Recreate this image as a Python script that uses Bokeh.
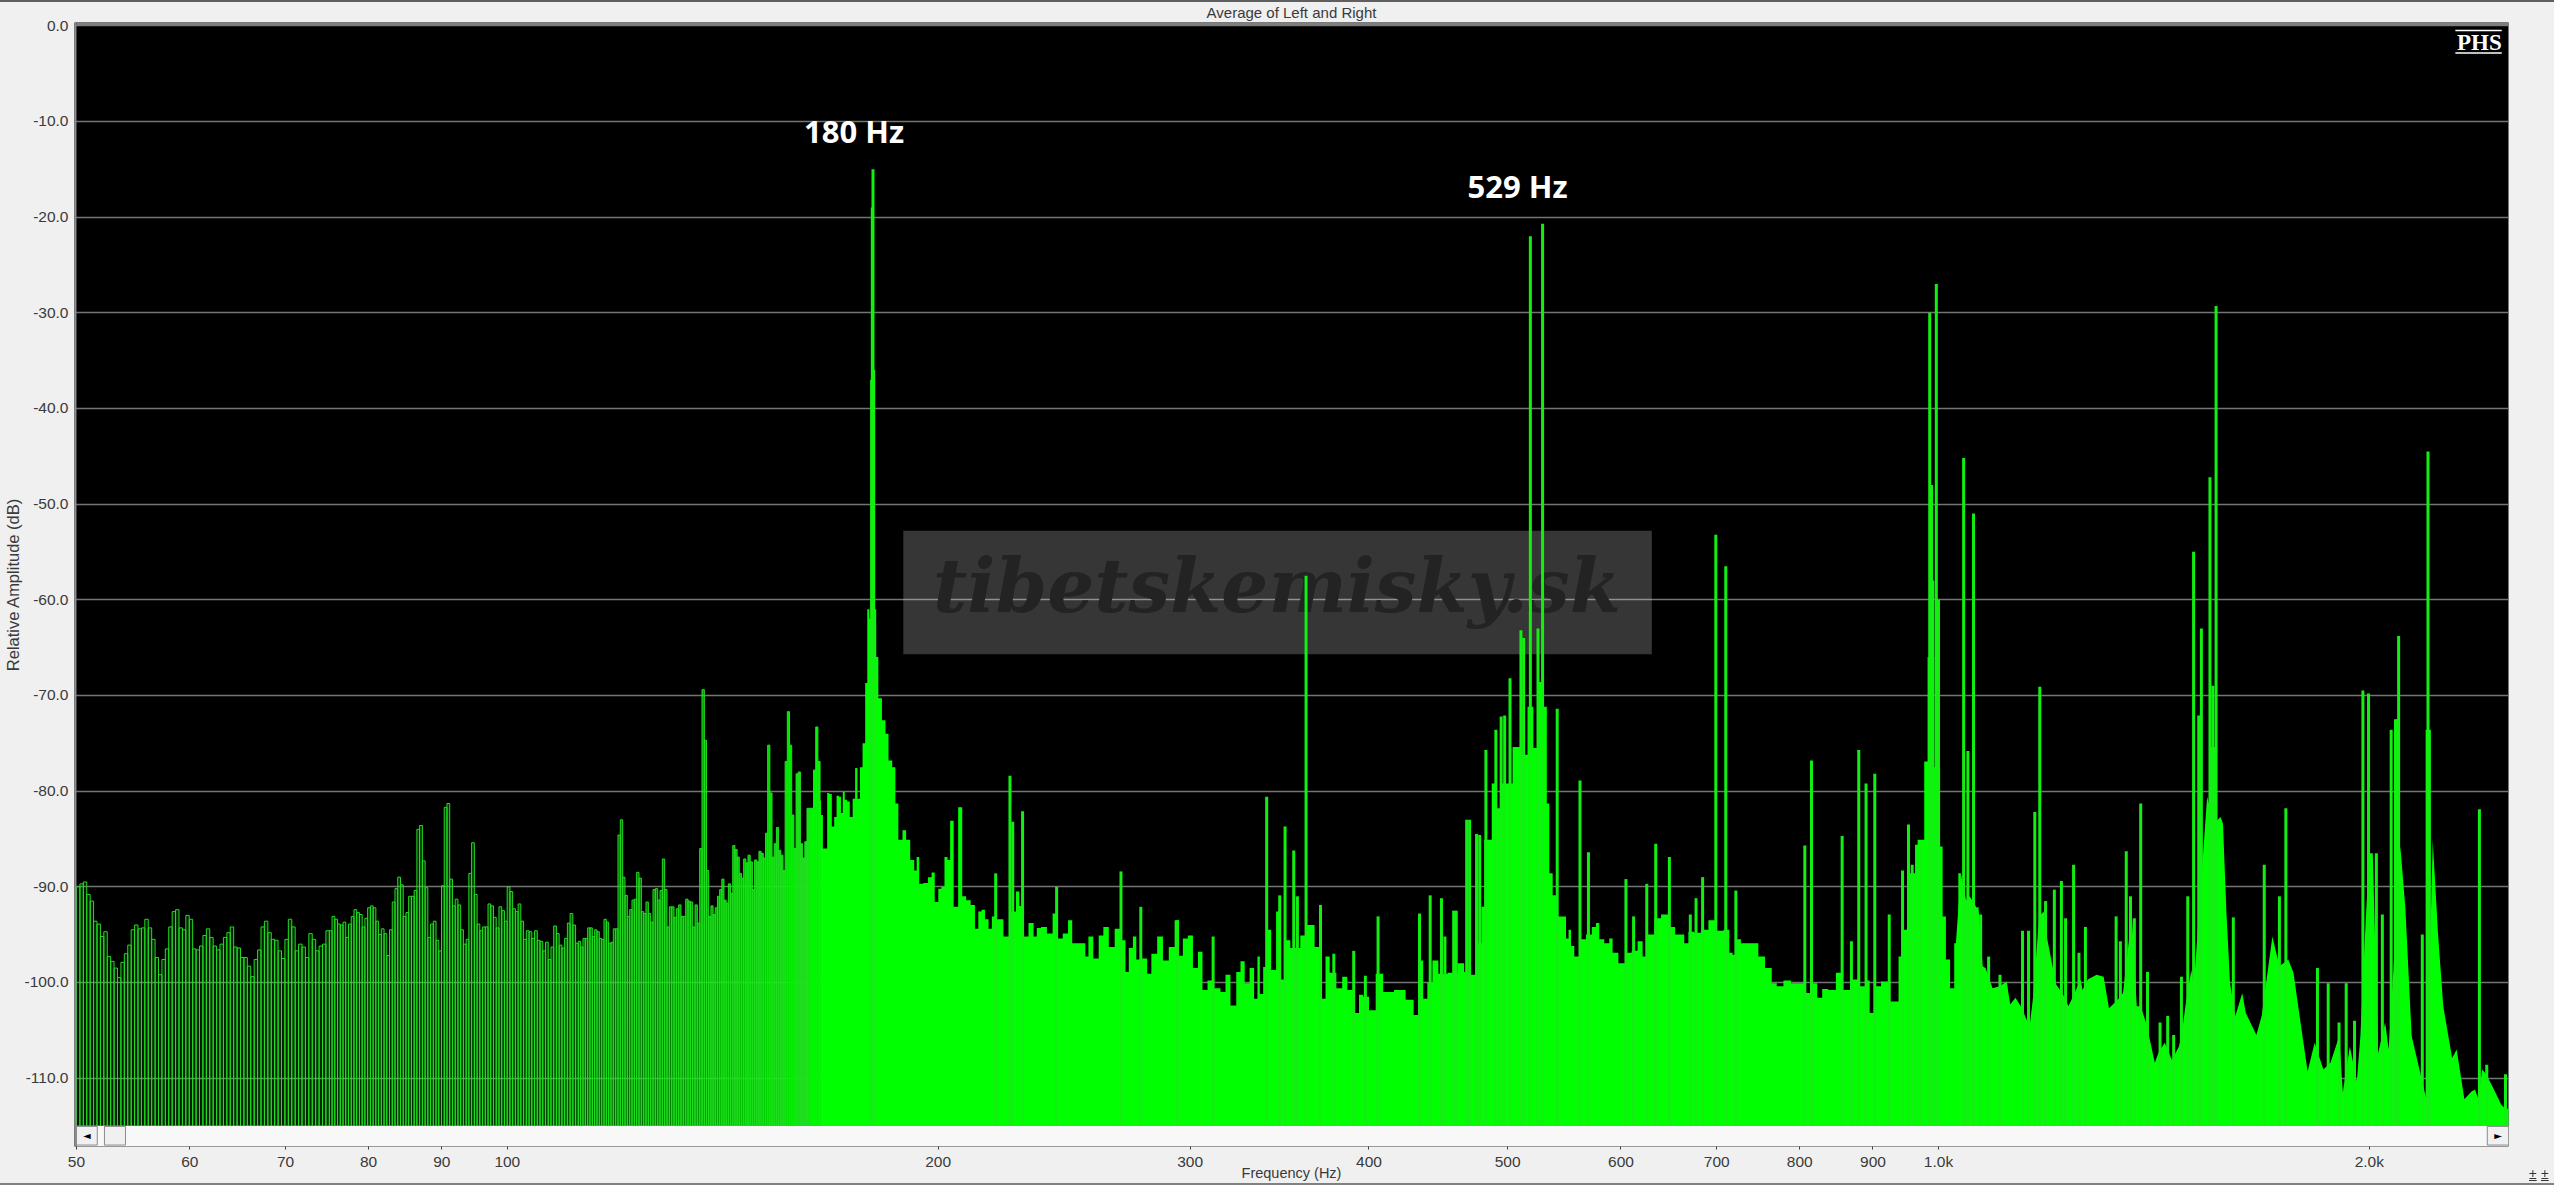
import numpy as np
from bokeh.plotting import figure
from bokeh.models import Range1d, FixedTicker, BoxAnnotation, Label
from bokeh.embed import file_html
from bokeh.resources import INLINE

TITLE = "Average of Left and Right"
XLABEL = "Frequency (Hz)"
YLABEL = "Relative Amplitude (dB)"
X_TICKS = [50, 60, 70, 80, 90, 100, 200, 300, 400, 500, 600, 700, 800, 900, 1000, 2000]
X_TICK_LABELS = ["50", "60", "70", "80", "90", "100", "200", "300", "400", "500", "600", "700", "800", "900", "1.0k", "2.0k"]
Y_TICKS = [0, -10, -20, -30, -40, -50, -60, -70, -80, -90, -100, -110]
Y_TICK_LABELS = ["0.0", "-10.0", "-20.0", "-30.0", "-40.0", "-50.0", "-60.0", "-70.0", "-80.0", "-90.0", "-100.0", "-110.0"]

# Individually resolved FFT bars, by frequency block (Hz limits, then dB of each bar)
block_limits = [(50.0, 75.1), (75.1, 112.1), (112.1, 137.3), (137.3, 165.4)]
bars_a = [-90,-89.7,-89.5,-90.8,-91.5,-93.6,-93.9,-95.2,-94.7,-97.3,-97.8,-98.5,-99.5,-97.9,-97,-96.1,-94.5,-94,-94.4,-94.3,-93.4,-94.3,-95.5,-97.4,-99.2,-97.6,-96.5,-94.2,-92.6,-92.4,-94.3,-94.5,-93,-93.4,-96.5,-96.6,-96.2,-95.1,-94.4,-95.3,-96.2,-96.6,-96,-95.3,-94.8,-94.2,-96.3,-96.4,-97.4,-97.4,-98.3,-99.4,-97.6,-96.6,-94.2,-93.6,-94.8,-95.5,-95.6,-96.7,-97.5,-95.5,-93.4,-94.2,-96.7,-96,-96.3,-97.4,-94.9,-95.5,-96.7,-96.2,-96,-94.6]
bars_b = [-94.6,-93.1,-93.4,-93.9,-94,-93.7,-95.3,-93.9,-93.1,-92.4,-92.7,-92.9,-94.2,-93.3,-92.2,-92,-92.2,-93.6,-95,-94.4,-94.9,-97.2,-94.5,-91.6,-90.2,-89,-89.8,-93.1,-92.7,-91,-91,-90.4,-84,-83.6,-87.3,-90.1,-95.3,-93.9,-93.6,-95.6,-96.7,-89.9,-81.7,-81.3,-89.2,-92,-91.3,-91.9,-94.5,-96,-95.5,-88.6,-85.4,-90.8,-93.9,-94.6,-94.2,-94.2,-91.8,-92,-93.2,-94.3,-92.1,-92.5,-93.6,-90,-90.5,-92.3,-92.6,-91.8,-93.6,-95.5,-94.6,-94.7,-95.4,-94.6,-95.6,-95.7,-96.7,-95.8,-97.6,-96.3,-94.1,-94.9,-96.1,-96.4,-95.4,-93.8,-92.8,-94,-95.9]
bars_c = [-95.7,-96.3,-95.4,-95.4,-94.3,-94.3,-95.2,-94.5,-94.7,-95.4,-95.5,-93.4,-93.7,-95.9,-95.8,-94.4,-94.4,-84.6,-83,-89,-90.9,-93.1,-92.4,-91.4,-91.3,-88.5,-89.1,-92.6,-92.8,-91.6,-92.8,-93.7,-90.3,-90.2,-91.4,-90.4,-87.1,-90.3,-94.2,-92.1,-92.1,-93.2,-92.3,-91.9,-93.1,-93.1,-91.3,-91.5,-91.6,-94.2,-91.9,-93.8,-86,-69.4]
bars_d = [-74.7,-88.3,-93.1,-92,-92.9,-92.2,-91,-90.3,-89.2,-91.4,-91.7,-89.7,-90.7,-85.7,-86.1,-86.9,-88.6,-89.1,-87.1,-87.5,-86.7,-87.4,-90.3,-87.2,-87.4,-86.3,-86.5,-87,-84.4,-75.2,-80.2,-86.9,-85.5,-83.8,-86.2,-86.7,-88.3,-76.9,-71.7,-75.2,-82.5,-86,-78.2,-78,-85.5,-87,-85.3,-81.8,-81.8,-81.8,-77.8,-73.3,-76.9]

# Solid part of the spectrum: envelope of the noise floor
floor_hz = [165.4,165.9,166.4,167.0,167.6,168.2,168.9,169.5,170.2,170.8,171.3,171.8,172.4,173.1,173.9,174.7,175.3,176,176.7,177.5,178.2,178.7,179.4,180,181.2,182.1,183.3,184.2,185.1,186.4,187,188.2,189.5,190.4,192,192.9,193.5,194.5,196.1,197.4,198.4,199.4,200.7,201.4,202.7,203.4,204.4,205.7,207.4,
208.4,210,211.5,212.9,213.8,215.1,216.2,217.6,218.5,221.1,223.2,225.8,227.6,228.2,230,232.6,233.8,235,237,239.5,241.4,243.4,245.4,247.6,248.7,250.7,253,253.9,255.5,257.9,260,261.8,264.6,266.8,269.6,271.1,272.5,274.7,275.5,279.2,280.7,283,286,288.3,291.4,293.8,295.3,297.7,300.1,302.6,305,307,310,313.3,316.7,318.4,321.8,324.4,326.2,328.8,331.4,333.6,335,336.2,338.6,340.4,343.1,345.9,348.2,351.5,353.4,357.2,359.1,365,368,372,374,377,382.1,384.2,388.4,392.6,394.7,397.9,402.2,406.5,412,420.9,427.7,431.9,434.7,438.2,440.6,445.4,
449.1,458.8,463.7,468.7,473.8,478.4,480.2,482.8,486.7,488,493.3,497.3,501.3,506.7,513.5,519,523.2,527.5,531.8,533.2,536.1,539,543.3,547.7,550.7,552.2,555.1,558.1,564.1,570.2,574.8,577.9,581,587.2,590.4,593.5,601.5,608,612.9,619.6,622.9,629.6,636.5,643.4,652,657.2,662.5,666.1,671.5,678.7,686,695.3,702.8,712.3,716.1,720,723.8,731.6,745.4,751.4,761.6,767.8,774,784.5,793,803.6,812.3,818.8,826.7,832,843.3,852.5,861.7,875.7,885.1,892.3,898.1,906.9,916.6,934,941.5,949,959.2,974.7,980,985.2,1001.2,1004,1009.3,1014.7,1022.9,1028.4,
1036.6,1045.4,1051.4,1063.4,1066.4,1073.7,1078.6,1090.9,1103.3,1116,1122.3,1131.9,1141.6,1157.9,1164.5,1175.8,1184.5,1191.3,1208.3,1222.1,1232.5,1257.2,1260.7,1271.5,1289.7,1304.4,1315.6,1334.3,1345.7,1364.9,1375.7,1384.5,1396.3,1404.2,1416.3,1424.3,1439,1455.8,1472.4,1479.1,1489.3,1502,1508,1540.6,1558.2,1574.2,1580.4,1589.4,1598.5,1612.1,1630.3,1639.6,1663,1667.7,1682,1711.2,1730.7,1755.4,1770.3,1790.5,1811,1831.6,1857.6,1878.8,1905.6,1916.5,1938.3,1960.4,1971.5,1988.5,1999.8,2011.2,2028.5,2051.7,2063.4,2081,2102.4,2119.2,2141,2192.4,2214.8,2233.7,2252.8,2285,2301.9,2330.7,2357.3,2370.7,2384.2,2397.8,2411.4,2438.9,2473.6,2494.7,2510]
floor_db = [-81,-82.5,-86,-86,-80.2,-80.3,-83.7,-82.7,-80.5,-80.6,-82.3,-80.1,-80.9,-81.1,-82.7,-80.8,-77.6,-80.8,-77.5,-75,-68.7,-61,-62,-60,-66,-70.3,-72.6,-74,-76.8,-77.5,-81.3,-85.1,-84.1,-85.1,-87.2,-88.3,-86.9,-89.7,-89.6,-89,-88.5,-91.6,-90.2,-90,-86.9,-87.2,-83.1,-92.1,-81.7,
-91,-91.4,-91.9,-94.4,-92.6,-92.4,-93.4,-94.4,-93.1,-93.4,-95.2,-92.6,-90.5,-92,-95.2,-93.8,-95.2,-94.3,-94.2,-94.9,-92.8,-95.4,-94.9,-93.5,-95.9,-95.9,-95.9,-97.3,-95.2,-97.5,-95.1,-94.2,-96.3,-94.4,-95.6,-98.9,-96.4,-95.2,-97.6,-97.5,-99.1,-97,-95.2,-97.7,-96.3,-93.5,-97.2,-95.4,-95.1,-98.5,-96.8,-100.8,-99.8,-100.6,-101,-99.2,-102.4,-98.9,-97.8,-100.1,-98.5,-101.7,-97.3,-101.2,-98.4,-94.5,-98.7,-92.6,-99.7,-95.6,-96.4,-96.4,-95.1,-94,-96.3,-101.7,-97.3,-99,-100.6,-99.4,-100.8,-103.2,-101.3,-101.5,-102.9,-99.1,-101,-100.8,-101.8,-103.4,-97.7,-101.7,-100,-97.7,
-99.1,-99,-98,-98.9,-99.2,-95.9,-92.1,-85.1,-85.1,-79.2,-81.8,-79.2,-79.2,-75.4,-76.2,-71.2,-75.5,-68.6,-71.2,-81.3,-88.6,-90.9,-93.1,-93.1,-95.4,-94.5,-96.2,-97.3,-95.5,-95,-94.2,-93.8,-95.5,-95.9,-95.4,-96.9,-98,-96.9,-96.7,-95.7,-97.3,-95,-93.3,-92.9,-94.2,-95,-95,-95.9,-94.7,-94.8,-94.5,-93.5,-94.6,-94.5,-96.9,-97.1,-95.5,-95.9,-95.9,-97.3,-98.5,-100.1,-100.4,-99.8,-100.1,-100.1,-101.1,-100.1,-101.6,-100.7,-100.8,-99,-100.8,-99.7,-100.4,-99.8,-103.2,-100.4,-99.9,-102,-97.3,-94.5,-88.6,-85.1,-76.9,-66,-77.5,-85.8,-93.1,-97.6,-100.6,-95.9,-88.6,
-91.4,-91,-92.2,-92.1,-98.3,-98.5,-100.6,-100.4,-99.9,-102.3,-101.6,-102.5,-104.6,-101.5,-93.1,-92.6,-95.5,-100.2,-101.3,-102.5,-99.7,-100.8,-99.7,-99.2,-99.4,-102.7,-101.8,-101.1,-92.8,-102.5,-102.5,-104.2,-105.8,-108.4,-107.4,-106.3,-108.1,-106.7,-105.3,-102,-98.7,-100.4,-80.6,-83.4,-82.7,-83.4,-92.8,-100.1,-103.5,-101.1,-103.2,-105.1,-105.5,-103.5,-95.2,-98.3,-97.6,-99,-104.2,-109.3,-106.3,-109.1,-108.4,-105.6,-111.5,-106.7,-110.3,-105.6,-93.5,-86.5,-86.5,-107.4,-104.2,-107,-97.6,-85.8,-92.1,-105.6,-112.2,-85.1,-94.9,-102.5,-107.9,-107,-112.2,-111.4,-111.2,-112.2,-109.1,-109.5,-110.9,-112.8,-113.3,-112.8,-113.6]

# Narrow spectral lines rising above the floor
peak_hz = [179.4,179.7,179.9,180.1,180.3,180.6,219.4,224.5,225.5,229.1,242,268.4,277.1,294,311.3,339.3,346.5,349.5,354.4,361.5,356.5,370,378,390.3,397.7,405.9,433.9,441.4,449.5,460.3,470.3,478,
452,458.4,468.1,475.6,482.8,490.6,494.8,497.6,501.9,510.8,513,518.6,528.9,525,541.5,561.7,569.4,604.8,612.3,625.4,634.5,648.6,670.8,677,684.2,698.9,710.2,721.8,806.5,815.2,856.4,869.3,879.6,890,902.6,923.8,943.8,952.9,958.6,965.3,972.2,986,989,991,996.5,1000,
1041.3,1048.4,1058,1070.2,1084,1104,1144.7,1155.9,1167.6,1177,1188,1204.9,1218.7,1226.9,1242.8,1253.6,1266.7,1330.8,1340,1352.7,1362,1370.5,1384.5,1399.8,1428.3,1446,1459.9,1478.3,1493.4,1507.5,1520,1526.5,1547.7,1550,1555,1558,1563,1607,1689,1730.7,1748.7,1840,1872,1905,1927,1953,1979.5,1997.5,2022.9,2042.4,2071.6,2086,2092,2096.6,2178,2195,2198,2203,2387.6,2416,2490]
peak_db = [-62,-37,-19,-15,-36,-61,-88.6,-78.4,-83.2,-82.1,-90,-88.4,-92.1,-93.5,-95.2,-80.6,-90.9,-83.7,-86.2,-57.5,-91,-91.9,-97,-96.7,-99.3,-93.1,-92.8,-90.9,-91.2,-92.5,-83,-84.6,
-95.2,-92.5,-83,-84.5,-75.7,-73.6,-72.2,-72.1,-68.2,-63.2,-64,-22,-20.7,-63,-71.4,-78.9,-86.4,-89.2,-93.1,-89.7,-85.5,-86.9,-92.9,-91.2,-89,-53.2,-56.5,-90.4,-85.7,-76.8,-84.7,-95.7,-75.7,-79.2,-78.2,-92.9,-88.3,-83.5,-87.7,-85.6,-85.4,-30,-48,-58,-27,-60,
-45.2,-75.8,-51,-92.9,-97.3,-99.2,-94.6,-94.6,-82.2,-69.1,-91.5,-90.3,-89.4,-93.3,-87.7,-96.9,-94.2,-93.1,-95.7,-86.3,-91,-93.3,-81.3,-98.9,-104.2,-103.5,-105.5,-99.4,-91,-55,-72.1,-63,-47.2,-75.4,-69,-75.4,-29.3,-93.2,-87.7,-91,-81.8,-98.5,-100.1,-104.2,-100.1,-104,-69.5,-69.8,-86.5,-92.9,-73.6,-72.5,-72.5,-63.8,-95,-73.6,-44.5,-73.6,-81.9,-108.6,-109.6]

# Labels inside the chart
note_text = ["180 Hz", "529 Hz"]
note_hz = [174.7, 508.0]
note_db = [-11.0, -16.8]

GREEN = "#00ff00"
INK = "#3a3a3a"
# The frame also holds the scroll strip under the spectrum and the bevel above and left of it:
# the spectrum itself runs from 50 Hz, -115 dB up to 0 dB.
p = figure(width=2554, height=1185, x_axis_type="log", output_backend="svg", toolbar_location=None,
           x_range=Range1d(49.84, 2502), y_range=Range1d(-117.15, 0.33),
           background_fill_color="black", border_fill_color="#f0f0f0",
           min_border_left=73, min_border_right=46, min_border_top=22, min_border_bottom=39)
p.outline_line_color = None
p.title.text = TITLE
p.title.align = "center"
p.title.text_font = "Liberation Sans"
p.title.text_font_size = "15px"
p.title.text_font_style = "normal"
p.title.text_color = INK
p.title.standoff = 3
p.xgrid.visible = False
p.ygrid.ticker = FixedTicker(ticks=Y_TICKS)
p.ygrid.grid_line_color = "#747474"
p.ygrid.grid_line_width = 1.6
p.ygrid.level = "underlay"

ax = p.xaxis[0]
ax.ticker = FixedTicker(ticks=X_TICKS)
ax.major_label_overrides = {t: s for t, s in zip(X_TICKS, X_TICK_LABELS)}
ax.major_tick_in = 0
ax.major_tick_out = 3
ax.minor_tick_out = 0
ax.minor_tick_in = 0
ax.major_tick_line_color = "#404040"
ax.axis_line_color = None
ax.major_label_standoff = 3
ax.major_label_text_font = "Liberation Sans"
ax.major_label_text_font_size = "15.5px"
ax.major_label_text_color = INK
ax.axis_label = XLABEL
ax.axis_label_standoff = -8
ax.axis_label_text_font = "Liberation Sans"
ax.axis_label_text_font_size = "14.5px"
ax.axis_label_text_font_style = "normal"
ax.axis_label_text_color = INK

ay = p.yaxis[0]
ay.ticker = FixedTicker(ticks=Y_TICKS)
ay.major_label_overrides = {t: s for t, s in zip(Y_TICKS, Y_TICK_LABELS)}
ay.major_tick_in = 0
ay.major_tick_out = 0
ay.minor_tick_out = 0
ay.minor_tick_in = 0
ay.axis_line_color = None
ay.major_label_standoff = 6
ay.major_label_text_font = "Liberation Sans"
ay.major_label_text_font_size = "15.5px"
ay.major_label_text_color = INK
ay.axis_label = YLABEL
ay.axis_label_standoff = 0
ay.axis_label_text_font = "Liberation Sans"
ay.axis_label_text_font_size = "16.5px"
ay.axis_label_text_font_style = "normal"
ay.axis_label_text_color = INK

# watermark sits under the spectrum
p.add_layout(BoxAnnotation(left=189.1, right=630.5, top=-52.8, bottom=-65.7, fill_color="white", fill_alpha=0.21,
                           line_color=None, level="underlay"))
p.add_layout(Label(x=345, y=-58.6, text="tibetskemisky.sk", text_align="center", text_baseline="middle",
                   text_font="DejaVu Serif", text_font_style="bold italic", text_font_size="74px",
                   text_color="#232323", level="underlay"))

# fill strength of the comb rises as the bars crowd together
for (lo, hi), vals in zip(block_limits, [bars_a, bars_b, bars_c, bars_d]):
    edges = np.geomspace(lo, hi, len(vals) + 1)
    alpha = np.interp(edges[:-1], [50, 100, 125, 145, 165], [0.1, 0.22, 0.45, 0.75, 1.0])
    p.quad(left=edges[:-1], right=edges[1:], top=vals, bottom=[-115.0] * len(vals),
           fill_color=GREEN, fill_alpha=alpha, line_color="#22dc22", line_width=1)

# the floor is blocky below 1 kHz and runs in smooth flanks above it; the two parts overlap
split = floor_hz.index(1036.6)
p.varea_step(x=floor_hz[:split + 1], y1=[-115.0] * (split + 1), y2=floor_db[:split + 1], step_mode="center", fill_color=GREEN)
p.varea(x=floor_hz[split - 1:], y1=[-115.0] * (len(floor_hz) - split + 1), y2=floor_db[split - 1:], fill_color=GREEN)
p.segment(x0=peak_hz, x1=peak_hz, y0=[-115.0] * len(peak_hz), y1=peak_db, line_color="#12f012", line_width=3)

p.text(x=note_hz, y=note_db, text=note_text, text_color="white", text_align="center", text_baseline="middle",
       text_font={"value": "Open Sans"}, text_font_style="bold", text_font_size="31px")

# PHS logo
p.add_layout(Label(x=2475, y=-1.75, text="PHS", text_align="right", text_baseline="alphabetic",
                   text_font="Liberation Serif", text_font_style="bold", text_font_size="23px", text_color="white"))
p.segment(x0=[2297, 2297], x1=[2475, 2475], y0=[-0.5, -2.85], y1=[-0.5, -2.85], line_color="white", line_width=1.5)

# scroll strip and bevel, inside the extended frame
p.quad(left=[50], right=[2502], top=[-115], bottom=[-117.15], fill_color="#f8f8f8", line_color=None)
p.quad(left=[50, 52.3, 2418], right=[51.7, 54.1, 2502], top=[-115.05] * 3, bottom=[-117.0] * 3,
       fill_color="#f0f0f0", line_color="#8a8a8a", line_width=1)
p.quad(left=[50], right=[2502], top=[0.33], bottom=[0], fill_color="#7f7f7f", line_color=None)
p.quad(left=[49.84], right=[50], top=[0.33], bottom=[-117.15], fill_color="#8c8c8c", line_color=None)
p.text(x=[50.85, 2460], y=[-116.05, -116.05], text=["◄", "►"], text_align="center", text_baseline="middle",
       text_color="black", text_font={"value": "DejaVu Sans"}, text_font_size="10px")

html = file_html(p, INLINE)
extra = ('<style>html,body{background:#f0f0f0;overflow:hidden}'
         '.edge{position:fixed;left:0;right:0;height:2px;z-index:5}'
         '.pm{position:fixed;top:1166px;font:14px "Liberation Sans";color:#333;text-decoration:underline;z-index:5}</style>')
marks = ('<div class="edge" style="top:0;background:#5f5f5f"></div>'
         '<div class="edge" style="top:1183px;background:#808080"></div>'
         '<div class="pm" style="left:2529px">±</div><div class="pm" style="left:2541px">±</div>')
html = html.replace("</head>", extra + "</head>", 1).replace("</body>", marks + "</body>", 1)
open("out.html", "w").write(html)
